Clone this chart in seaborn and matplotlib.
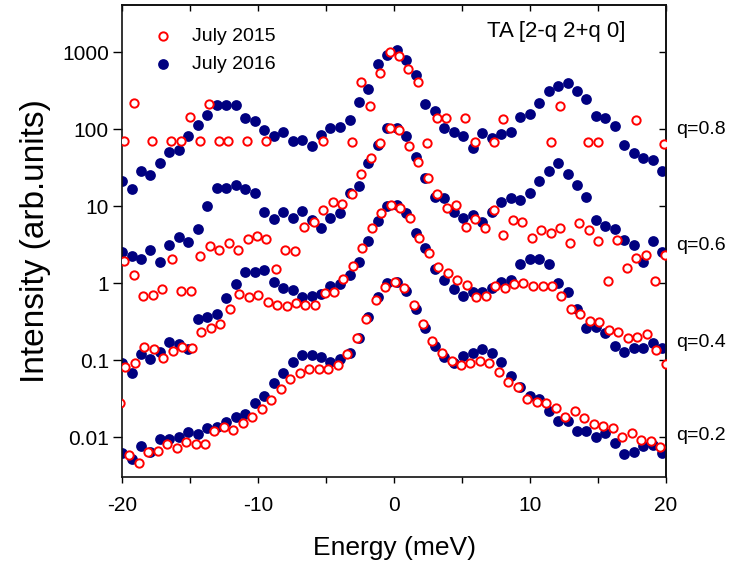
import numpy as np
import pandas as pd
import matplotlib
matplotlib.use("Agg")
import matplotlib.pyplot as plt
import matplotlib.ticker as ticker
import seaborn as sns

# energy grid of the scans (meV)
energy = [-20.00, -19.30, -18.61, -17.91, -17.21, -16.52, -15.82, -15.12, -14.42, -13.73,
          -13.03, -12.33, -11.64, -10.94, -10.24, -9.55, -8.85, -8.15, -7.45, -6.76,
          -6.06, -5.36, -4.67, -3.97, -3.27, -2.58, -1.88, -1.18, -0.48, 0.21,
          0.91, 1.61, 2.30, 3.00, 3.70, 4.40, 5.09, 5.79, 6.49, 7.18,
          7.88, 8.58, 9.27, 9.97, 10.67, 11.37, 12.06, 12.76, 13.46, 14.15,
          14.85, 15.55, 16.24, 16.94, 17.64, 18.33, 19.03, 19.73]

q_values = ["q=0.2", "q=0.4", "q=0.6", "q=0.8"]
# small energy offset of the 2015 scans relative to 2016 (meV)
shift_2015 = [-0.17, 0.25, 0.17, 0.15]

nan = np.nan

# July 2016 (filled)
jul16_q02 = [0.0062, 0.0052, 0.0078, 0.0064, 0.0094, 0.0095, 0.0100, 0.0116, 0.0110, 0.0131,
             0.0135, 0.0160, 0.0185, 0.0201, 0.0277, 0.0344, 0.0503, 0.0678, 0.096, 0.116,
             0.118, 0.109, 0.096, 0.103, 0.126, 0.193, 0.36, 0.66, 1.0, 1.05,
             0.80, 0.46, 0.26, 0.155, 0.110, 0.093, 0.114, 0.123, 0.139, 0.126,
             0.096, 0.063, 0.0455, 0.0344, 0.0315, 0.0222, 0.0164, 0.0164, 0.0122, 0.0122,
             0.0102, 0.0113, 0.0084, 0.0061, 0.0065, 0.0077, 0.0079, 0.0062]
jul16_q04 = [0.091, 0.069, 0.120, 0.103, 0.130, 0.175, 0.163, 0.139, 0.344, 0.369,
             0.40, 0.65, 0.97, 1.42, 1.42, 1.49, 1.05, 0.88, 0.82, 0.66,
             0.69, 0.73, 0.92, 0.98, 1.28, 1.91, 3.5, 6.5, 10.0, 10.4,
             8.1, 4.5, 2.85, 1.52, 1.09, 0.85, 0.68, 0.78, 0.76, 0.86,
             1.05, 1.10, 1.78, 2.05, 2.05, 1.77, 1.02, 0.78, 0.46, 0.26,
             0.27, 0.224, 0.153, 0.130, 0.143, 0.143, 0.169, 0.143]
jul16_q06 = [2.58, 2.26, 2.05, 2.71, 1.91, 3.15, 4.04, 3.48, 5.08, 10.1,
             17.1, 17.1, 18.9, 16.6, 14.8, 8.5, 6.8, 8.4, 7.1, 8.7,
             6.65, 5.18, 7.1, 8.2, 14.8, 18.4, 36, 63, 103, 105,
             82, 44, 23, 13.4, 12.7, 8.5, 7.0, 7.7, 6.3, 8.5,
             11.5, 12.7, 12.1, 15.0, 21.3, 29, 36, 26, 18.9, 13.4,
             6.65, 5.56, 5.0, 3.65, 3.15, 1.91, 3.55, 2.58]
jul16_q08 = [21, 16.6, 28.5, 25.5, 37, 51, 54, 83, 114, 153,
             207, 207, 207, 142, 130, 98, 82, 91, 71, 73,
             60, 84, 103, 106, 132, 226, 335, 710, 915, 1060,
             795, 513, 216, 174, 103, 93, 82, 58, 89, 78,
             87, 93, 146, 158, 218, 315, 365, 396, 315, 245,
             150, 139, 110, 63, 49, 43, 40, 29]

# July 2015 (open)
jul15_q02 = [0.028, 0.0059, 0.0047, 0.0064, 0.0067, 0.0082, 0.0073, 0.0086, 0.0082, 0.0081,
             0.0119, 0.0138, 0.0125, 0.0155, 0.0185, 0.0233, 0.0306, 0.0425, 0.058, 0.069,
             0.076, 0.078, 0.078, 0.088, 0.122, 0.193, 0.34, 0.61, 0.89, 1.03,
             0.86, 0.53, 0.30, 0.176, 0.126, 0.099, 0.087, 0.093, 0.099, 0.091,
             0.071, 0.053, 0.0448, 0.0315, 0.029, 0.0277, 0.0238, 0.0185, 0.0222, 0.0177,
             0.0149, 0.0142, 0.0131, 0.0102, 0.0113, 0.0092, 0.0090, 0.0074]
jul15_q04 = [0.081, 0.093, 0.150, 0.139, 0.106, 0.134, 0.150, 0.143, 0.23, 0.265,
             0.30, 0.46, 0.73, 0.67, 0.70, 0.58, 0.53, 0.51, 0.55, 0.53,
             0.53, 0.74, 0.78, 1.15, 1.66, 2.85, 5.2, 8.1, 10.3, 9.6,
             7.0, 3.9, 2.48, 1.61, 1.38, 1.10, 0.95, 0.66, 0.68, 0.91,
             0.86, 0.97, 1.02, 0.91, 0.91, 0.91, 0.68, 0.47, 0.40, 0.32,
             0.31, 0.248, 0.236, 0.193, 0.203, 0.22, 0.136, 0.090]
jul15_q06 = [1.97, 1.28, 0.69, 0.70, 0.84, 2.05, 0.80, 0.80, 2.26, 3.05,
             2.71, 3.3, 2.71, 3.72, 4.16, 3.77, 1.53, 2.71, 2.63, 5.45,
             6.3, 8.95, 11.5, 10.6, 14.6, 26, 42, 67, 103, 98,
             61, 38, 23, 14.6, 9.4, 10.4, 5.45, 6.8, 5.3, 9.0,
             4.3, 6.65, 6.3, 3.84, 4.93, 4.46, 5.18, 3.37, 6.0, 4.93,
             3.58, 1.08, 3.65, 1.60, 2.11, 2.33, 1.08, 2.33]
jul15_q08 = [70, 218, nan, 70, nan, 70, 70, 143, 70, 213,
             70, 70, nan, 70, nan, 70, nan, nan, nan, nan,
             nan, 70, nan, nan, 69, 416, 202, 545, 1020, 900,
             615, 416, 67, 139, 139, nan, 139, 68, nan, 68,
             135, nan, nan, nan, nan, 68, 201, nan, nan, 68,
             68, nan, nan, nan, 132, nan, nan, 65]

scans_2016 = [jul16_q02, jul16_q04, jul16_q06, jul16_q08]
scans_2015 = [jul15_q02, jul15_q04, jul15_q06, jul15_q08]

rows = []
for q, dE, s16, s15 in zip(q_values, shift_2015, scans_2016, scans_2015):
    for e, v in zip(energy, s16):
        rows.append({"Energy": e, "Intensity": v, "q": q, "Scan": "July 2016"})
    for e, v in zip(energy, s15):
        rows.append({"Energy": e + dE, "Intensity": v, "q": q, "Scan": "July 2015"})
df = pd.DataFrame(rows).dropna()

sns.set_style("ticks")
plt.rcParams["font.family"] = ["Liberation Sans", "DejaVu Sans"]
plt.rcParams["axes.unicode_minus"] = False
plt.rcParams["text.color"] = "black"
plt.rcParams["axes.labelcolor"] = "black"
plt.rcParams["xtick.color"] = "black"
plt.rcParams["ytick.color"] = "black"

fig = plt.figure(figsize=(7.54, 5.71), dpi=100)
ax = fig.add_axes([0.1618, 0.1646, 0.7215, 0.8266])

sns.scatterplot(data=df[df.Scan == "July 2016"], x="Energy", y="Intensity",
                color="#000080", edgecolor="#000080", linewidth=0, s=60,
                label="July 2016", zorder=2, ax=ax)
sns.scatterplot(data=df[df.Scan == "July 2015"], x="Energy", y="Intensity",
                color="red", facecolor="white", edgecolor="red", linewidth=1.4, s=36,
                label="July 2015", zorder=3, ax=ax)

ax.set_yscale("log")
ax.set_xlim(-20, 20)
ax.set_ylim(0.00305, 4110)

yt = [0.01, 0.1, 1, 10, 100, 1000]
ax.yaxis.set_major_locator(ticker.FixedLocator(yt))
ax.yaxis.set_major_formatter(ticker.FixedFormatter(["0.01", "0.1", "1", "10", "100", "1000"]))
ax.yaxis.set_minor_locator(ticker.NullLocator())
ax.xaxis.set_major_locator(ticker.MultipleLocator(10))
ax.xaxis.set_minor_locator(ticker.MultipleLocator(5))

ax.tick_params(axis="x", which="both", direction="out", length=4.5, width=1, labelsize=15, pad=9)
ax.tick_params(axis="y", which="both", direction="out", length=6.5, width=1, labelsize=15, pad=3)
for sp in ax.spines.values():
    sp.set_linewidth(1.2)
    sp.set_color("#111111")

# inward ticks on the top and right frame
top = ax.secondary_xaxis("top")
top.xaxis.set_major_locator(ticker.MultipleLocator(10))
top.xaxis.set_minor_locator(ticker.MultipleLocator(5))
top.xaxis.set_major_formatter(ticker.NullFormatter())
top.tick_params(which="both", direction="in", length=4.5, width=1)
top.spines["top"].set_linewidth(1.2)
top.spines["top"].set_color("#111111")
right = ax.secondary_yaxis("right")
right.yaxis.set_major_locator(ticker.FixedLocator(yt))
right.yaxis.set_minor_locator(ticker.NullLocator())
right.yaxis.set_major_formatter(ticker.NullFormatter())
right.tick_params(which="both", direction="in", length=5, width=1)
right.spines["right"].set_linewidth(1.2)
right.spines["right"].set_color("#111111")

ax.set_xlabel("Energy (meV)", fontsize=19, labelpad=15)
ax.set_ylabel("Intensity (arb.units)", fontsize=24, labelpad=8)

handles, labels = ax.get_legend_handles_labels()
order = [labels.index("July 2015"), labels.index("July 2016")]
ax.legend([handles[i] for i in order], [labels[i] for i in order],
          loc="upper left", bbox_to_anchor=(0.008, 0.99), frameon=False,
          fontsize=14, handletextpad=0.5, labelspacing=0.55, markerscale=1.0)

ax.text(0.925, 0.943, "TA [2-q 2+q 0]", transform=ax.transAxes,
        ha="right", va="center", fontsize=16)

# q labels to the right of the frame
q_label_y = [0.0104, 0.17, 3.1, 98]
for q, yv in zip(q_values, q_label_y):
    ax.text(1.018, yv, q, transform=ax.get_yaxis_transform(),
            ha="left", va="center", fontsize=14, clip_on=False)

fig.savefig("out.png", dpi=100)
